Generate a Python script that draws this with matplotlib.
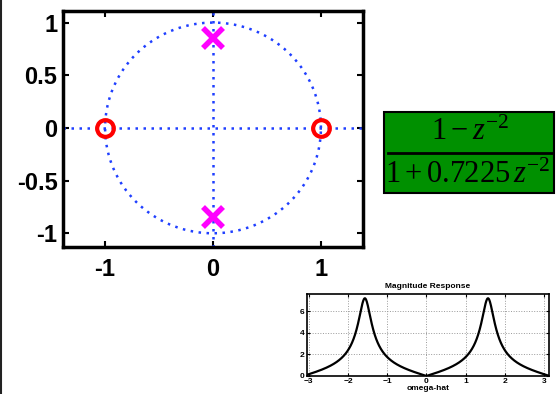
import numpy as np
import matplotlib.pyplot as plt
from matplotlib.lines import Line2D
from matplotlib.patches import Rectangle

plt.rcParams['font.family'] = 'Liberation Sans'
plt.rcParams['mathtext.fontset'] = 'custom'
plt.rcParams['mathtext.rm'] = 'Liberation Serif'
plt.rcParams['mathtext.it'] = 'Liberation Serif:italic'

# H(z) = (1 - z^-2) / (1 + 0.7225 z^-2)
b_coeffs = [1.0, 0.0, -1.0]
a_coeffs = [1.0, 0.0, 0.7225]

zeros = np.roots(b_coeffs)
poles = np.roots(a_coeffs)

xticks_pz = [-1, 0, 1]
yticks_pz = [-1, -0.5, 0, 0.5, 1]
xticks_mag = [-3, -2, -1, 0, 1, 2, 3]
yticks_mag = [0, 2, 4, 6]

fig = plt.figure(figsize=(5.59, 3.94), dpi=100)

# ---- pole-zero plot ----
ax = fig.add_axes([0.1127, 0.3731, 0.5367, 0.599])
th = np.linspace(0, 2 * np.pi, 400)
dots = (0, (1, 2.2))
ax.plot(np.cos(th), np.sin(th), color='#1f3fff', lw=1.8, ls=dots)
ax.axhline(0, color='#1f3fff', lw=1.8, ls=dots)
ax.axvline(0, color='#1f3fff', lw=1.8, ls=dots)
ax.plot(zeros.real, zeros.imag, 'o', ms=12, mfc='none', mec='red', mew=3)
ax.plot(poles.real, poles.imag, 'x', ms=14, mec='magenta', mew=4)
ax.set_xlim(-1.39, 1.39)
ax.set_ylim(-1.13, 1.11)
ax.set_xticks(xticks_pz)
ax.set_yticks(yticks_pz)
ax.set_xticklabels(['-1', '0', '1'])
ax.set_yticklabels(['-1', '-0.5', '0', '0.5', '1'])
ax.tick_params(direction='in', length=4, width=1.5, top=True, right=True,
               labelsize=17)
ax.tick_params(axis='x', pad=8)
ax.tick_params(axis='y', pad=4)
for lbl in ax.get_xticklabels() + ax.get_yticklabels():
    lbl.set_fontweight('bold')
for s in ax.spines.values():
    s.set_linewidth(2.5)

# ---- transfer function box ----
fig.patches.append(Rectangle((384 / 559, 1 - 193 / 394), 170 / 559, 81 / 394,
                             transform=fig.transFigure, facecolor='#009000',
                             edgecolor='black', lw=1.5))
fig.text(470 / 559, 1 - 132 / 394, r'$\mathrm{1}-z^{-2}$', fontsize=22,
         ha='center', va='center')
fig.lines.append(Line2D([388 / 559, 553 / 559], [1 - 152.5 / 394, 1 - 152.5 / 394],
                        transform=fig.transFigure, color='black', lw=2))
fig.text(468 / 559, 1 - 175 / 394, r'$\mathrm{1+0.7225}\,z^{-2}$', fontsize=22,
         ha='center', va='center')

# ---- magnitude response ----
w = np.linspace(-np.pi, np.pi, 1001)
ejw = np.exp(-1j * w)
num = np.polyval(b_coeffs[::-1], ejw)
den = np.polyval(a_coeffs[::-1], ejw)
mag = np.abs(num / den)

ax2 = fig.add_axes([0.549, 0.0457, 0.4326, 0.208])
ax2.plot(w, mag, color='black', lw=1.6)
ax2.set_xlim(-3.05, 3.12)
ax2.set_ylim(0, 7.6)
ax2.set_xticks(xticks_mag)
ax2.set_yticks(yticks_mag)
ax2.grid(True, color='#999999', ls=':', lw=0.7)
ax2.tick_params(direction='in', length=2, width=0.8, top=True, right=True,
                labelsize=6, pad=1.5)
for lbl in ax2.get_xticklabels() + ax2.get_yticklabels():
    lbl.set_fontweight('bold')
for s in ax2.spines.values():
    s.set_linewidth(1.2)
ax2.set_title('Magnitude Response', fontsize=6, fontweight='bold', pad=4)
ax2.set_xlabel('omega-hat', fontsize=6, fontweight='bold', labelpad=0)

# dark edge down the left side
fig.lines.append(Line2D([0.001, 0.001], [0, 1], transform=fig.transFigure,
                        color='#222222', lw=1.5))

fig.savefig('out.png', dpi=100)
